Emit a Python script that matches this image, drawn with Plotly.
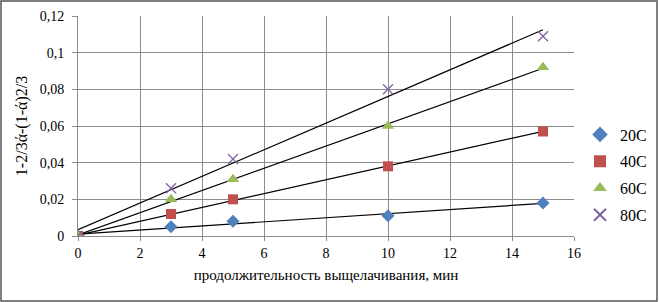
import numpy as np
import plotly.graph_objects as go

time_min = [0, 3, 5, 10, 15]
series_names = ["20C", "40C", "60C", "80C"]
v20 = [0, 0.005, 0.008, 0.011, 0.018]
v40 = [0, 0.012, 0.020, 0.038, 0.057]
v60 = [0, 0.020, 0.031, 0.060, 0.092]
v80 = [0, 0.026, 0.042, 0.080, 0.109]
x_ticks = [0, 2, 4, 6, 8, 10, 12, 14, 16]
y_ticks = [0, 0.02, 0.04, 0.06, 0.08, 0.1, 0.12]

colors = ["#4F81BD", "#C0504D", "#9BBB59", "#8064A2"]
symbols = ["diamond", "square", "triangle-up", "x-thin"]
sizes = [10, 10, 11, 10]

W, H = 659, 302
ml, mr, mt, mb = 78, 85, 16, 66
SERIF = "'Liberation Serif', 'Times New Roman', serif"

fig = go.Figure()
for name, vals, c in zip(series_names, [v20, v40, v60, v80], colors):
    k, b = np.polyfit(time_min, vals, 1)
    xs = [time_min[0], time_min[-1]]
    fig.add_trace(go.Scatter(x=xs, y=[k * x + b for x in xs], mode="lines",
                             line=dict(color="black", width=1.2),
                             showlegend=False, hoverinfo="skip"))
for name, vals, c, s, sz in zip(series_names, [v20, v40, v60, v80], colors, symbols, sizes):
    marker = dict(color=c, symbol=s, size=sz)
    if s == "x-thin":
        marker["line"] = dict(color=c, width=1.3)
    fig.add_trace(go.Scatter(x=time_min, y=vals, mode="markers", name=name,
                             legendgroup=name, marker=marker))

pw = W - ml - mr
ph = H - mt - mb

fig.update_layout(
    width=W, height=H,
    margin=dict(l=ml, r=mr, t=mt, b=mb, autoexpand=False),
    paper_bgcolor="white", plot_bgcolor="white",
    separators=", ",
    font=dict(family=SERIF, size=14, color="black"),
    legend=dict(x=(580 - ml) / pw, y=(H - mb - 175) / ph, yanchor="middle", xanchor="left",
                font=dict(family=SERIF, size=16), itemsizing="constant",
                itemwidth=30, tracegroupgap=3, bgcolor="rgba(0,0,0,0)"),
    xaxis=dict(range=[0, 16], tickvals=x_ticks, showgrid=True,
               gridcolor="#8c8c8c", gridwidth=1, zeroline=False,
               showline=True, linecolor="#8c8c8c", mirror=False,
               ticks="outside", ticklen=4, tickcolor="#8c8c8c",
               automargin=False,
               title=dict(text="продолжительность выщелачивания, мин",
                          font=dict(family=SERIF, size=15), standoff=9)),
    yaxis=dict(range=[0, 0.12], tickvals=y_ticks, showgrid=True,
               gridcolor="#8c8c8c", gridwidth=1, zeroline=False,
               showline=True, linecolor="#8c8c8c",
               ticks="outside", ticklen=5, tickcolor="#8c8c8c",
               ticklabelstandoff=5,
               automargin=False,
               title=dict(text="1-2/3ά-(1-ά)2/3", font=dict(family=SERIF, size=16),
                          standoff=8)),
)

fig.add_shape(type="rect", xref="paper", yref="paper",
              x0=(-ml + 1) / pw, x1=1 + (mr - 2) / pw,
              y0=(-mb + 1) / ph, y1=1 + (mt - 1) / ph,
              line=dict(color="#555555", width=1.5), fillcolor="rgba(0,0,0,0)",
              layer="below")

fig.write_html("out.html", config={"displayModeBar": False},
               post_script="document.body.style.margin='0';document.body.style.padding='0';")
